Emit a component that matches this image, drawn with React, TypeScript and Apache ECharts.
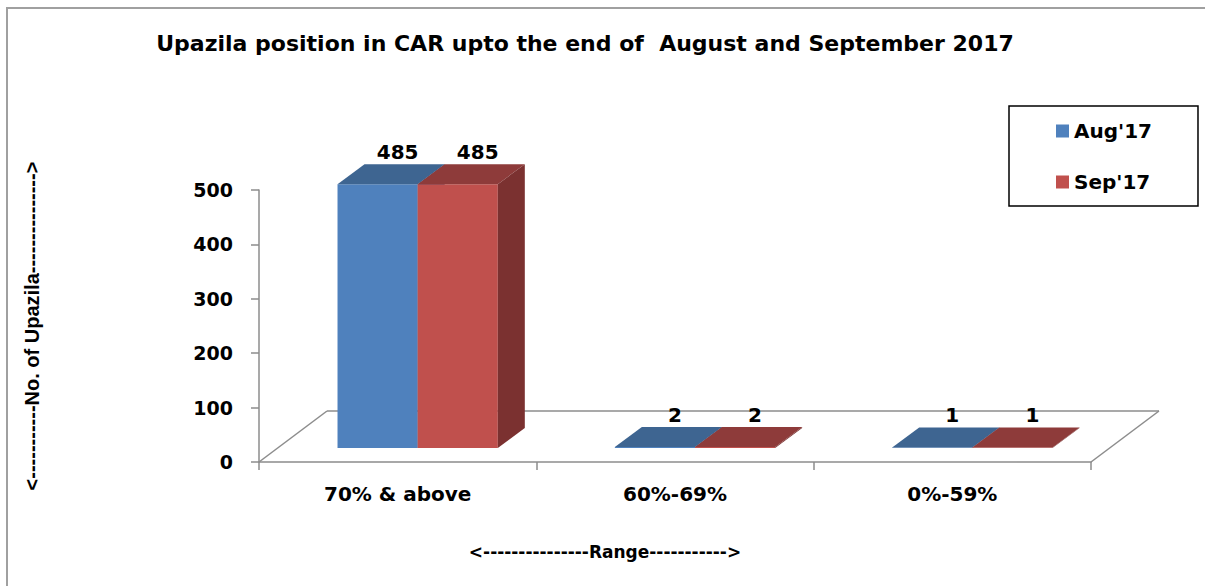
import React, { useEffect, useRef } from "react";
import * as echarts from "echarts";

const categories = ["70% & above", "60%-69%", "0%-59%"];
const augValues = [485, 2, 1];
const sepValues = [485, 2, 1];
const seriesNames = ["Aug'17", "Sep'17"];
const yTicks = { min: 0, max: 500, interval: 100 };
const titleText = "Upazila position in CAR upto the end of  August and September 2017";
const yAxisName = "<-----------No. of Upazila--------------->";
const xAxisName = "<---------------Range----------->";

const FRONT_DY = -14;
const DEPTH_DX = 27;
const DEPTH_DY = -20;
const FLOOR_DX = 68;
const FLOOR_DY = -51;
const BAR_W_RATIO = 0.289;
const PAIR_SHIFT = 20;

const palettes = [
  { front: "#4F81BD", top: "#3E6591", side: "#385D89" },
  { front: "#C0504D", top: "#8E3B3A", side: "#7B3130" },
];

const FONT = "'DejaVu Sans', sans-serif";

function makeBarRender(idx: number) {
  const pal = palettes[idx];
  return (params: any, api: any) => {
    const cat = api.value(0);
    const val = api.value(1);
    const base = api.coord([cat, 0]);
    const top = api.coord([cat, val]);
    const band = api.size([1, 0])[0];
    const w = band * BAR_W_RATIO;
    const pairCenter = base[0] + PAIR_SHIFT;
    const x0 = pairCenter - w + idx * w;
    const x1 = x0 + w;
    const yb = base[1] + FRONT_DY;
    const yt = top[1] + FRONT_DY;
    return {
      type: "group",
      children: [
        {
          type: "polygon",
          shape: { points: [[x0, yb], [x1, yb], [x1, yt], [x0, yt]] },
          style: { fill: pal.front },
        },
        {
          type: "polygon",
          shape: {
            points: [
              [x0, yt],
              [x1, yt],
              [x1 + DEPTH_DX, yt + DEPTH_DY],
              [x0 + DEPTH_DX, yt + DEPTH_DY],
            ],
          },
          style: { fill: pal.top },
        },
        {
          type: "polygon",
          shape: {
            points: [
              [x1, yb],
              [x1 + DEPTH_DX, yb + DEPTH_DY],
              [x1 + DEPTH_DX, yt + DEPTH_DY],
              [x1, yt],
            ],
          },
          style: { fill: pal.side },
        },
        {
          type: "text",
          x: (x0 + x1) / 2 + 20,
          y: yt + DEPTH_DY - 12,
          style: {
            text: String(val),
            font: `bold 20px ${FONT}`,
            fill: "#000",
            align: "center",
            verticalAlign: "middle",
          },
        },
      ],
    };
  };
}

function floorRender(params: any, api: any) {
  const cs = params.coordSys;
  const y0 = api.coord([0, 0])[1];
  const xl = cs.x;
  const xr = cs.x + cs.width;
  const st = { stroke: "#8C8C8C", lineWidth: 1.5, fill: null };
  return {
    type: "group",
    children: [
      { type: "line", shape: { x1: xl, y1: y0, x2: xl + FLOOR_DX, y2: y0 + FLOOR_DY }, style: st },
      { type: "line", shape: { x1: xl + FLOOR_DX, y1: y0 + FLOOR_DY, x2: xr + FLOOR_DX, y2: y0 + FLOOR_DY }, style: st },
      { type: "line", shape: { x1: xr, y1: y0, x2: xr + FLOOR_DX, y2: y0 + FLOOR_DY }, style: st },
    ],
  };
}

export default function App() {
  const ref = useRef<HTMLDivElement>(null);
  useEffect(() => {
    if (!ref.current) return;
    const chart = echarts.init(ref.current, null, { renderer: "svg" });
    const axisColor = "#8C8C8C";
    chart.setOption({
      animation: false,
      backgroundColor: "#fff",
      title: {
        text: titleText,
        left: 585,
        top: 32,
        padding: 0,
        textAlign: "center",
        textStyle: { fontFamily: FONT, fontWeight: "bold", fontSize: 22, color: "#000" },
      },
      legend: {
        data: seriesNames,
        orient: "vertical",
        left: 1009,
        top: 106,
        padding: [15, 46, 14, 47],
        itemGap: 31,
        itemWidth: 13,
        itemHeight: 13,
        icon: "rect",
        borderColor: "#000",
        borderWidth: 1.5,
        textStyle: { fontFamily: FONT, fontWeight: "bold", fontSize: 20, color: "#000" },
      },
      grid: { left: 259, right: 114, top: 190, bottom: 124, containLabel: false },
      xAxis: {
        type: "category",
        data: categories,
        boundaryGap: true,
        axisLine: { show: true, lineStyle: { color: axisColor, width: 1.5 } },
        axisTick: { show: true, length: 8, lineStyle: { color: axisColor, width: 1.5 } },
        axisLabel: {
          margin: 22,
          fontFamily: FONT,
          fontWeight: "bold",
          fontSize: 20,
          color: "#000",
        },
        splitLine: { show: false },
      },
      yAxis: {
        type: "value",
        min: yTicks.min,
        max: yTicks.max,
        interval: yTicks.interval,
        name: yAxisName,
        nameLocation: "middle",
        nameRotate: 90,
        nameGap: 217,
        nameTextStyle: {
          fontFamily: "'Liberation Sans', Arial, sans-serif",
          fontWeight: "bold",
          fontSize: 20,
          color: "#000",
        },
        axisLine: { show: true, lineStyle: { color: axisColor, width: 1.5 } },
        axisTick: { show: true, length: 8, lineStyle: { color: axisColor, width: 1.5 } },
        axisLabel: {
          margin: 26,
          fontFamily: FONT,
          fontWeight: "bold",
          fontSize: 19,
          color: "#000",
        },
        splitLine: { show: false },
      },
      graphic: [
        {
          type: "rect",
          shape: { x: 7, y: 8, width: 1300, height: 700 },
          style: { fill: null, stroke: "#A0A0A0", lineWidth: 2 },
          silent: true,
        },
        {
          type: "text",
          x: 605,
          y: 552,
          style: {
            text: xAxisName,
            font: `bold 17px ${FONT}`,
            fill: "#000",
            align: "center",
            verticalAlign: "middle",
          },
        },
      ],
      series: [
        {
          type: "custom",
          name: "floor",
          silent: true,
          renderItem: floorRender,
          data: [[0, 0]],
          z: 1,
        },
        {
          type: "custom",
          name: seriesNames[0],
          itemStyle: { color: palettes[0].front },
          renderItem: makeBarRender(0),
          data: augValues.map((v, i) => [i, v]),
          z: 2,
        },
        {
          type: "custom",
          name: seriesNames[1],
          itemStyle: { color: palettes[1].front },
          renderItem: makeBarRender(1),
          data: sepValues.map((v, i) => [i, v]),
          z: 3,
        },
      ],
    });
    return () => chart.dispose();
  }, []);
  return (
    <div
      ref={ref}
      style={{ position: "absolute", left: 0, top: 0, width: 1205, height: 586 }}
    />
  );
}
